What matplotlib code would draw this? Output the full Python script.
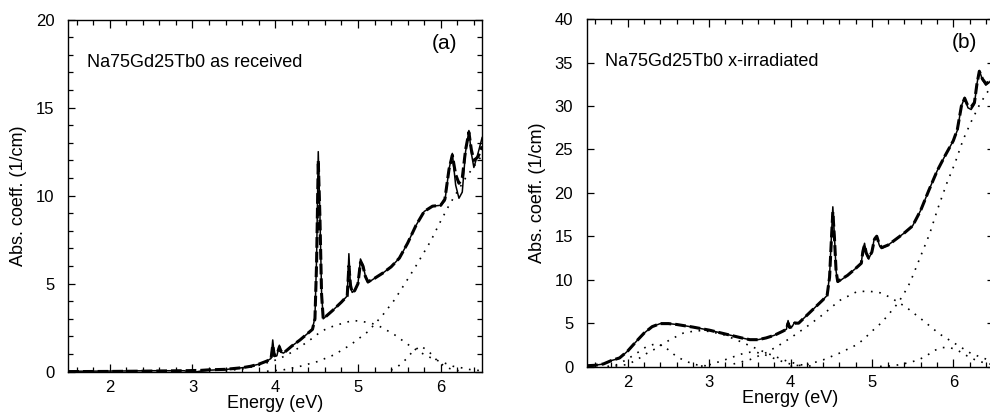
import matplotlib
matplotlib.use("Agg")
import matplotlib.pyplot as plt
from matplotlib.ticker import MultipleLocator

plt.rcParams['font.family'] = ['Liberation Sans', 'DejaVu Sans']

# ---------------- Panel (a): as received ----------------
xa = [1.5, 2.0, 2.5, 2.9, 3.0, 3.1, 3.2, 3.4, 3.6, 3.7, 3.8, 3.9, 3.95, 3.97, 3.99,
      4.02, 4.05, 4.07, 4.1, 4.2, 4.3, 4.4, 4.45, 4.48, 4.50, 4.52, 4.54, 4.56, 4.58,
      4.7, 4.8, 4.87, 4.89, 4.91, 4.93, 4.96, 5.0, 5.03, 5.06, 5.09, 5.12, 5.2, 5.3,
      5.4, 5.5, 5.6, 5.7, 5.8, 5.9, 6.0, 6.05, 6.1, 6.14, 6.18, 6.22, 6.26, 6.3, 6.34,
      6.37, 6.40, 6.45, 6.5]
ya_meas = [0.02, 0.03, 0.05, 0.05, -0.05, 0.03, 0.08, 0.12, 0.22, 0.3, 0.42, 0.6, 0.75,
           1.8, 0.9, 0.9, 1.5, 1.1, 1.05, 1.45, 1.8, 2.2, 2.4, 3.1, 6.5, 12.5, 9.0, 4.5,
           3.0, 3.5, 3.95, 4.3, 6.7, 4.8, 4.5, 4.6, 5.0, 6.4, 6.1, 5.4, 5.05, 5.3, 5.6,
           5.95, 6.45, 7.3, 8.3, 9.1, 9.4, 9.45, 9.7, 11.5, 12.4, 10.6, 9.85, 10.2, 12.5,
           13.7, 12.4, 11.6, 12.4, 13.3]
ya_fit = [0.0, 0.01, 0.03, 0.05, 0.06, 0.07, 0.1, 0.13, 0.22, 0.3, 0.42, 0.6, 0.75,
          1.5, 0.9, 0.95, 1.4, 1.15, 1.05, 1.45, 1.8, 2.2, 2.4, 3.0, 6.2, 12.0, 8.8, 4.4,
          3.0, 3.5, 3.95, 4.3, 6.0, 4.9, 4.5, 4.6, 5.0, 6.2, 6.0, 5.4, 5.1, 5.3, 5.6,
          5.95, 6.45, 7.3, 8.3, 9.1, 9.4, 9.45, 9.8, 11.5, 12.3, 11.2, 10.7, 11.0, 12.6,
          13.6, 12.6, 12.0, 12.2, 12.8]

xa_g1 = [3.4, 3.6, 3.8, 4.0, 4.1, 4.2, 4.3, 4.45, 4.55, 4.65, 4.75, 4.85, 4.95, 5.05,
         5.16, 5.25, 5.34, 5.44, 5.54, 5.64, 5.75, 5.85, 5.95, 6.05, 6.15, 6.27, 6.37, 6.5]
ya_g1 = [0.05, 0.15, 0.35, 0.65, 0.85, 1.1, 1.4, 1.9, 2.27, 2.5, 2.65, 2.8, 2.9, 2.85,
         2.75, 2.6, 2.37, 2.1, 1.76, 1.42, 1.1, 0.85, 0.65, 0.48, 0.3, 0.2, 0.1, 0.05]
xa_g2 = [5.4, 5.48, 5.58, 5.66, 5.76, 5.86, 5.95, 6.05, 6.15, 6.25]
ya_g2 = [0.08, 0.28, 0.7, 1.14, 1.46, 1.12, 0.66, 0.28, 0.1, 0.03]
xa_uv = [3.9, 4.1, 4.3, 4.51, 4.71, 4.91, 5.12, 5.30, 5.44, 5.58, 5.70, 5.88, 5.98,
         6.09, 6.15, 6.3, 6.5]
ya_uv = [0.02, 0.1, 0.3, 0.57, 0.95, 1.52, 2.27, 3.22, 4.07, 5.1, 6.0, 7.43, 8.38,
         9.36, 9.84, 11.0, 12.3]

# ---------------- Panel (b): x-irradiated ----------------
xb = [1.5, 1.6, 1.7, 1.75, 1.8, 1.9, 2.0, 2.1, 2.2, 2.3, 2.4, 2.5, 2.6, 2.8, 3.0, 3.2,
      3.4, 3.5, 3.6, 3.7, 3.8, 3.9, 3.95, 3.97, 3.99, 4.02, 4.05, 4.1, 4.2, 4.3, 4.4,
      4.45, 4.48, 4.50, 4.52, 4.54, 4.56, 4.58, 4.7, 4.8, 4.87, 4.89, 4.91, 4.93, 4.96,
      5.0, 5.03, 5.06, 5.09, 5.12, 5.2, 5.3, 5.4, 5.5, 5.6, 5.7, 5.8, 5.9, 6.0, 6.05,
      6.1, 6.14, 6.18, 6.22, 6.26, 6.29, 6.32, 6.36, 6.40, 6.45, 6.5]
yb_meas = [0.1, 0.15, 0.3, 0.5, 0.7, 0.95, 1.8, 2.85, 3.85, 4.6, 4.95, 4.95, 4.85, 4.55,
           4.2, 3.75, 3.3, 3.1, 3.1, 3.3, 3.6, 4.05, 4.3, 5.3, 4.5, 4.6, 5.1, 5.0, 5.9,
           6.8, 7.7, 8.2, 10.5, 14.5, 18.4, 15.0, 11.0, 9.7, 10.5, 11.3, 11.9, 13.5, 14.2,
           13.0, 12.4, 13.2, 14.8, 15.1, 14.0, 13.6, 14.0, 14.7, 15.4, 16.2, 18.0, 20.3,
           22.5, 24.3, 26.0, 27.2, 30.0, 31.0, 29.8, 29.6, 30.2, 32.5, 34.1, 33.0, 32.4,
           32.8, 33.5]
yb_fit = [0.1, 0.15, 0.3, 0.5, 0.7, 1.0, 1.8, 2.85, 3.85, 4.6, 4.95, 4.95, 4.85, 4.55,
          4.2, 3.75, 3.3, 3.1, 3.1, 3.3, 3.6, 4.05, 4.3, 5.0, 4.5, 4.6, 5.0, 5.0, 5.9,
          6.8, 7.7, 8.2, 10.3, 14.2, 17.8, 14.8, 11.0, 9.8, 10.5, 11.3, 11.9, 13.3, 14.0,
          13.1, 12.5, 13.2, 14.6, 15.0, 14.1, 13.7, 14.0, 14.7, 15.4, 16.2, 18.0, 20.3,
          22.5, 24.3, 26.0, 27.3, 30.0, 30.9, 30.0, 29.9, 30.4, 32.5, 34.0, 33.1, 32.6,
          32.8, 33.5]

xb_g1 = [1.75, 1.86, 1.98, 2.11, 2.23, 2.35, 2.45, 2.6, 2.72, 2.85, 3.0]
yb_g1 = [0.02, 0.2, 0.77, 1.54, 2.3, 2.65, 2.3, 1.15, 0.58, 0.2, 0.05]
xb_g2 = [1.85, 2.0, 2.11, 2.23, 2.35, 2.52, 2.68, 2.85, 3.0, 3.17, 3.33, 3.5, 3.66,
         3.8, 3.95, 4.1, 4.25]
yb_g2 = [0.05, 0.25, 0.77, 1.5, 2.1, 3.1, 3.85, 4.15, 4.05, 3.7, 3.1, 2.4, 1.75, 1.2,
         0.65, 0.25, 0.05]
xb_g3 = [2.9, 3.0, 3.13, 3.25, 3.35, 3.45, 3.55, 3.65, 3.78, 3.9, 4.03, 4.15]
yb_g3 = [0.05, 0.2, 0.58, 0.96, 1.3, 1.6, 1.7, 1.5, 1.0, 0.58, 0.2, 0.05]
xb_g4 = [3.3, 3.5, 3.7, 3.85, 4.0, 4.2, 4.4, 4.6, 4.81, 4.95, 5.1, 5.22, 5.42, 5.63,
         5.83, 6.03, 6.22, 6.43, 6.5]
yb_g4 = [0.3, 0.8, 1.6, 2.4, 3.3, 4.6, 6.0, 7.6, 8.6, 8.7, 8.5, 8.0, 6.85, 5.3, 3.76,
         2.6, 1.5, 0.77, 0.6]
xb_g5 = [5.1, 5.26, 5.46, 5.57, 5.67, 5.76, 5.87, 5.96, 6.06, 6.17, 6.27, 6.37, 6.5]
yb_g5 = [0.02, 0.08, 0.46, 0.77, 1.23, 1.84, 2.19, 2.19, 1.84, 1.23, 0.77, 0.46, 0.2]
xb_uv = [4.0, 4.2, 4.4, 4.6, 4.81, 4.89, 5.01, 5.12, 5.2, 5.32, 5.4, 5.47, 5.59, 5.71,
         5.81, 5.92, 6.02, 6.12, 6.22, 6.32, 6.41, 6.5]
yb_uv = [0.05, 0.2, 0.77, 1.54, 2.5, 3.07, 4.15, 5.07, 5.95, 7.3, 8.5, 9.7, 12.5, 15.3,
         18.2, 21.1, 23.4, 26.1, 28.2, 30.1, 31.5, 32.5]

labels = ["Na75Gd25Tb0 as received", "Na75Gd25Tb0 x-irradiated"]
tags = ["(a)", "(b)"]

fig = plt.figure(figsize=(9.9, 4.18), dpi=100)
axA = fig.add_axes([0.069, 0.111, 0.418, 0.842])
axB = fig.add_axes([0.593, 0.123, 0.411, 0.831])

dot = dict(color='black', lw=1.2, linestyle=(0, (1, 4)))
solid = dict(color='black', lw=1.1)
dash = dict(color='black', lw=2.2, linestyle=(0, (3.5, 1.3)))

axA.plot(xa, ya_meas, **solid)
axA.plot(xa, ya_fit, **dash)
for xs, ys in [(xa_g1, ya_g1), (xa_g2, ya_g2), (xa_uv, ya_uv)]:
    axA.plot(xs, ys, **dot)

axB.plot(xb, yb_meas, **solid)
axB.plot(xb, yb_fit, **dash)
for xs, ys in [(xb_g1, yb_g1), (xb_g2, yb_g2), (xb_g3, yb_g3),
               (xb_g4, yb_g4), (xb_g5, yb_g5), (xb_uv, yb_uv)]:
    axB.plot(xs, ys, **dot)

axA.set_ylim(0, 20)
axB.set_ylim(0, 40)
axA.yaxis.set_major_locator(MultipleLocator(5))
axA.yaxis.set_minor_locator(MultipleLocator(1))
axB.yaxis.set_major_locator(MultipleLocator(5))

for ax, lab, tag in zip([axA, axB], labels, tags):
    ax.set_xlim(1.5, 6.5)
    ax.xaxis.set_major_locator(MultipleLocator(1))
    ax.xaxis.set_minor_locator(MultipleLocator(0.2))
    ax.tick_params(which='both', direction='in', top=True, right=True, width=0.9,
                   labelsize=12, colors='black')
    ax.tick_params(axis='y', which='major', length=5, pad=10)
    ax.tick_params(axis='x', which='major', length=6, pad=6)
    ax.tick_params(which='minor', length=3.5)
    for s in ax.spines.values():
        s.set_linewidth(1.0)
    ax.set_xlabel("Energy (eV)", fontsize=13, labelpad=0)
    ax.set_ylabel("Abs. coeff. (1/cm)", fontsize=13, labelpad=6)
    ax.text(0.045, 0.878, lab, transform=ax.transAxes, fontsize=13,
            ha='left', va='center')
    ax.text(0.94 if tag == "(a)" else 0.958, 0.932, tag, transform=ax.transAxes,
            fontsize=15, ha='right', va='center')

fig.savefig("out.png", dpi=100)
